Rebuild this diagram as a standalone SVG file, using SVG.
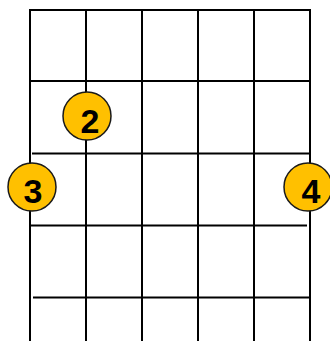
<svg xmlns="http://www.w3.org/2000/svg" width="330" height="341" viewBox="0 0 330 341">
<style>
.ln{stroke:#000;stroke-width:2;fill:none}
.dot{fill:#FFC000;stroke:#1a1a1a;stroke-width:1.5}
.num{font-family:"Liberation Sans",Arial,sans-serif;font-weight:bold;font-size:34px;fill:#000;text-anchor:middle}
</style>
<rect width="330" height="341" fill="#fff"/>
<g id="connectors">
<line class="ln" x1="30" y1="10" x2="30" y2="341"/>
<line class="ln" x1="86" y1="10" x2="86" y2="341"/>
<line class="ln" x1="142" y1="10" x2="142" y2="341"/>
<line class="ln" x1="198" y1="10" x2="198" y2="341"/>
<line class="ln" x1="254" y1="10" x2="254" y2="341"/>
<line class="ln" x1="310" y1="10" x2="310" y2="341"/>
<line class="ln" x1="29" y1="10" x2="311" y2="10"/>
<line class="ln" x1="30" y1="81" x2="310" y2="81"/>
<line class="ln" x1="32" y1="153.5" x2="310" y2="153.5"/>
<line class="ln" x1="30" y1="225.5" x2="307" y2="225.5"/>
<line class="ln" x1="33" y1="297.5" x2="310" y2="297.5"/>
</g>
<g id="dot2">
<circle class="dot" cx="87" cy="116" r="24"/>
<text class="num" x="90" y="133">2</text>
</g>
<g id="dot3">
<circle class="dot" cx="32" cy="187" r="24"/>
<text class="num" x="33" y="203">3</text>
</g>
<g id="dot4">
<circle class="dot" cx="308" cy="187" r="24"/>
<text class="num" x="311" y="203">4</text>
</g>
</svg>
